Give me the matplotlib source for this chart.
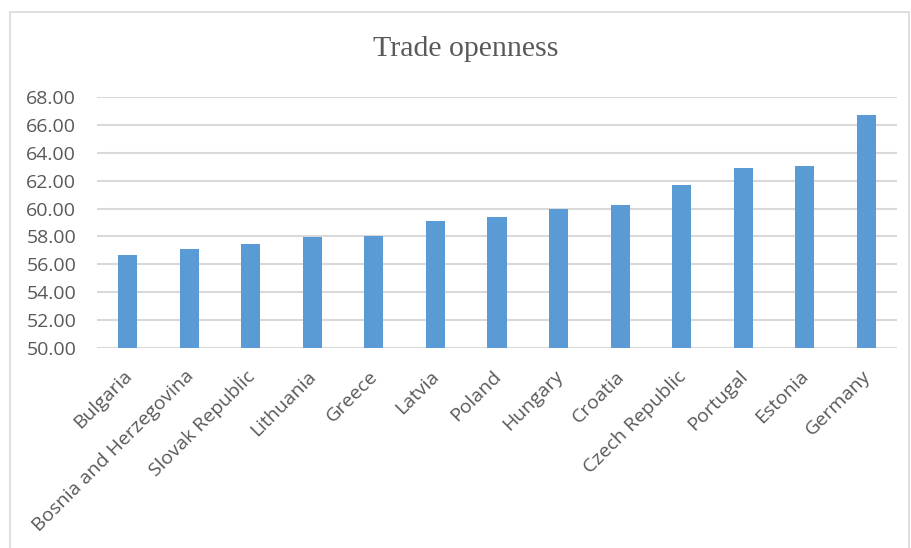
import matplotlib
matplotlib.use("Agg")
import matplotlib.pyplot as plt
from matplotlib.patches import Rectangle
from matplotlib.transforms import ScaledTranslation
import numpy as np

countries = ["Bulgaria", "Bosnia and Herzegovina", "Slovak Republic", "Lithuania",
             "Greece", "Latvia", "Poland", "Hungary", "Croatia", "Czech Republic",
             "Portugal", "Estonia", "Germany"]
values = [56.65, 57.10, 57.43, 57.94, 58.06, 59.13, 59.42, 59.97, 60.28, 61.67,
          62.93, 63.08, 66.73]
yticks = [50, 52, 54, 56, 58, 60, 62, 64, 66, 68]

W, H = 911, 548
fig = plt.figure(figsize=(W / 100, H / 100), dpi=100)
fig.patch.set_facecolor("white")

# outer chart border
fig.patches.append(Rectangle((10 / W, -0.01), (909 - 10) / W, (H - 12) / H + 0.01,
                             transform=fig.transFigure, fill=False,
                             edgecolor="#d9d9d9", linewidth=1.2))

ax = fig.add_axes([97 / W, 1 - 348 / H, (897 - 97) / W, (348 - 97) / H])
x = np.arange(len(countries))
ax.bar(x, values, width=0.31, color="#5b9bd5", zorder=3)
ax.set_xlim(-0.5, len(countries) - 0.5)
ax.set_ylim(50, 68)
ax.set_yticks(yticks)
ax.set_yticklabels([f"{v:.2f}" for v in yticks], fontsize=14, family="Open Sans",
                   color="#595959")
ax.yaxis.grid(True, color="#d9d9d9", linewidth=1.5, zorder=0)
ax.tick_params(axis="y", length=0, pad=15)
ax.tick_params(axis="x", length=0, pad=8)
ax.set_xticks(x)
ax.set_xticklabels(countries, rotation=45, ha="right", va="top",
                   rotation_mode="anchor", fontsize=14, family="Open Sans",
                   color="#595959")
off = ScaledTranslation(-5 / 100, -8 / 100, fig.dpi_scale_trans)
for lbl in ax.get_xticklabels():
    lbl.set_transform(lbl.get_transform() + off)
for s in ax.spines.values():
    s.set_visible(False)
ax.set_facecolor("none")

fig.text(466 / W, 1 - 49 / H, "Trade openness", ha="center", va="center",
         fontsize=21.5, family="Liberation Serif", color="#595959")

fig.savefig("out.png", dpi=100)
